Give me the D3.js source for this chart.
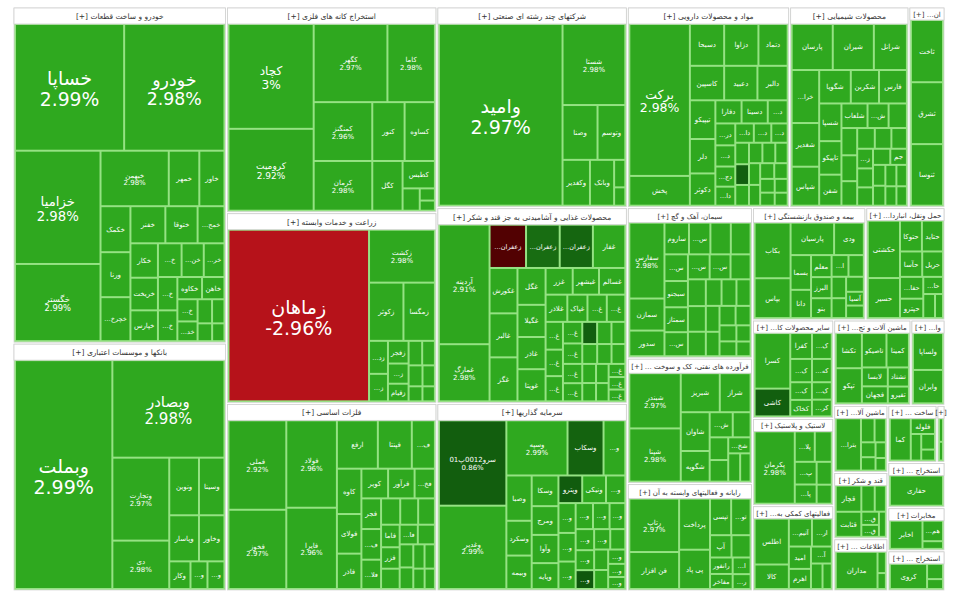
<!DOCTYPE html>
<html>
<head>
<meta charset="utf-8">
<script src="https://cdn.jsdelivr.net/npm/d3@7"></script>
<style>
body { margin: 0; background: #fff; }
text { font-family: "DejaVu Sans", sans-serif; }
</style>
</head>
<body>
<div id="chart"></div>
<script>
// stock lists: [symbol, size, % change]
var khodro = [["خساپا",13875,2.99],["خودرو",12750,2.98],["خزامیا",9718,2.98],["خگستر",6622,2.99],
  ["خبهمن",3800,2.98],["خمهر",1700,2.97],["خاور",1400,2.99],["خکمک",1380,2.98],["ورنا",1350,2.99],
  ["خچرخش",1320,2.97],["خفنر",1300,2.98],["ختوقا",1200,2.96],["خمحرکه",1000,2.98],["خکار",950,2.99],
  ["خریخت",900,2.97],["خپارس",850,2.98],["خشرق",800,2.99],["خنصیر",750,2.97],["خرینگ",700,2.98],
  ["ختراک",650,2.99],["خلنت",600,2.96],["خکاوه",550,2.98],["خاهن",500,2.97],["خمحور",450,2.99],
  ["خدیزل",400,2.98],["خصدرا",350,2.97],["خعمرا",300,2.99],["خفولا",260,2.98],["خوساز",220,2.98]];
var bank = [["وبملت",22770,2.99],["وبصادر",11172,2.98],["وتجارت",4824,2.97],["دی",2814,2.98],
  ["ونوین",1750,2.99],["وسینا",1500,2.98],["وپاسار",1400,2.97],["وخاور",1200,2.99],["وکار",600,2.98],
  ["وپست",480,2.96],["وسرمد",480,2.98]];
var madan = [["کچاد",8715,3.00],["کرومیت",6806,2.92],["کگهر",5621,2.97],["کاما",3619,2.98],
  ["کمنگنز",3364,2.96],["کرمان",2842,2.98],["کنور",1856,2.99],["کساوه",1740,2.97],["کگل",1470,2.98],
  ["کطبس",864,2.99],["کبافق",374,2.98],["کپرور",180,2.97],["کدما",150,2.98]];
var zeraat = [["زماهان",23184,-2.96],["زکشت",3350,2.98],["زکوثر",1925,2.97],["زمگسا",1760,2.99],
  ["زدشت",600,2.98],["زپارس",500,2.97],["زفجر",450,2.98],["زشریف",400,2.99],["زقیام",350,2.96],
  ["زبینا",320,2.98],["زگلدشت",300,2.97],["زفکا",280,2.99],["زنگان",250,2.98],["زشگزا",200,2.97],
  ["زملارد",180,2.98]];
var felezat = [["فملی",4928,2.92],["فخوز",4368,2.97],["فولاد",4214,2.96],["فایرا",3920,2.96],
  ["ارفع",1886,2.98],["فپنتا",1564,2.97],["فسبزوار",1064,2.99],["کاوه",1058,2.98],["فولای",924,2.97],
  ["فاذر",825,2.98],["کویر",756,2.99],["فرآور",750,2.98],["فخاس",575,2.97],["فجر",575,2.99],
  ["فمراد",575,2.98],["فلامی",550,2.97],["فگستر",480,2.98],["فسرب",450,2.99],["فنورد",420,2.98],
  ["فاما",400,2.97],["فزر",380,2.98],["فروی",360,2.99],["فالوم",340,2.98],["فسازان",320,2.97],
  ["فنوال",300,2.98],["فباهنر",280,2.99],["فجوش",260,2.98],["فتوسا",240,2.97],["فافزا",220,2.98],
  ["فکمند",200,2.98]];
var chand = [["وامید",21894,2.97],["شستا",4960,2.98],["وصنا",1870,2.97],["وتوسم",1485,2.98],
  ["وکغدیر",1225,2.99],["وبانک",1080,2.98],["وصنعت",300,2.97],["ومعادن",200,2.98]];
var ghaza = [["آردینه",5520,2.91],["غمارگ",2640,2.98],["زعفران0011",1440,-0.5],["زعفران0012",1330,1.3],
  ["زعفران0010",1310,1.1],["غفار",1280,2.97],["غکورش",1155,2.98],["غالبر",1120,2.97],["غگز",1120,2.99],
  ["غگل",945,2.98],["غگیلا",825,2.98],["غاذر",825,2.97],["غویتا",825,2.99],["غزر",660,2.98],
  ["غبشهر",640,2.97],["غسالم",640,2.98],["غلاذر",540,2.99],["غپاک",500,2.98],["غشهد",480,2.97],
  ["غدیس",460,2.98],["غنوش",440,2.99],["غپینو",420,2.98],["غشاذر",400,2.97],["غمینو",380,2.98],
  ["غبهنوش",360,2.99],["غشصفا",340,2.98],["غنیلی",320,2.97],["غدشت",300,0.9],["غمهرا",290,2.98],
  ["غکامل",280,2.99],["غشان",270,2.98],["غچین",260,2.97],["غپونه",250,2.98],["غتوس",240,2.99],
  ["غصینو",230,2.98],["غزاگرس",220,2.97],["غیوان",210,2.98],["غمشهد",200,2.98],["غگلپا",190,2.99],
  ["غرب",180,2.98]];
var sarmaye = [["سرو0012پ01",5610,0.86],["وغدیر",5478,2.99],["وسپه",3285,2.99],["وسکاب",1935,1.0],
  ["وسبحان",1170,2.98],["وصبا",1118,2.97],["وسکرد",858,2.98],["وبیمه",825,2.99],["وسکا",800,2.98],
  ["ومرج",750,2.97],["وآوا",736,2.98],["وپایه",675,2.99],["وپترو",640,0.8],["ونیکی",640,2.98],
  ["وساپا",520,2.97],["وبوعلی",500,2.98],["ولغدر",480,2.99],["وتوکا",460,2.98],["وسمنان",440,2.97],
  ["وسخراج",420,2.98],["وملل",400,2.99],["وکبهمن",380,2.98],["وسیزد",360,2.97],["وکادو",340,0.7],
  ["وآتوس",320,2.98],["وهامون",300,2.99],["وسقم",280,2.98],["وتوصا",260,2.97],["وسفارس",240,2.98],
  ["والبر",220,2.99],["وسنوین",200,2.98]];
var darou = [["برکت",8732,2.98],["پخش",1711,2.97],["دسبحا",1360,2.98],["دزاوا",1360,2.99],
  ["دتماد",1160,2.97],["کاسپین",1122,2.98],["دعبید",1089,2.99],["دالبر",990,2.98],["تیپیکو",936,2.97],
  ["دلر",832,2.98],["دکوثر",780,2.99],["دفارا",575,2.98],["دسینا",575,2.97],["دشیمی",437,2.98],
  ["درازک",414,2.99],["دلقما",400,2.98],["دجابر",380,2.97],["داسوه",360,2.98],["دابور",340,2.99],
  ["دتولید",320,2.98],["دپارس",300,2.97],["دامین",280,2.98],["دیران",270,0.9],["دشیری",270,2.99],
  ["دکیمی",260,2.98],["دفرا",250,2.97],["دزهراوی",240,2.98],["داوه",230,2.99],["دتوزیع",220,2.98],
  ["درازی",210,2.97],["دسانکو",200,2.98],["دکپسول",190,2.99],["دبالک",180,2.98],["درهآور",170,2.97],
  ["دحاوی",160,2.98]];
var shimi = [["پارسان",1763,2.98],["شیران",1763,2.97],["شرانل",1419,2.99],["خراسان",1360,2.98],
  ["شغدیر",1120,2.97],["شپاس",1000,2.98],["شگویا",986,2.99],["شکربن",880,2.98],["فارس",870,2.97],
  ["شسپا",782,2.98],["تاپیکو",696,2.99],["شفن",644,2.98],["شلعاب",598,2.97],["شپاکسا",483,2.98],
  ["شاراک",420,2.99],["شصدف",400,2.98],["شبهرن",380,2.97],["شفا",360,2.98],["شخارک",340,2.99],
  ["شیراز",320,2.98],["شپدیس",300,2.97],["زاگرس",290,2.98],["شنفت",280,2.99],["شکلر",270,2.98],
  ["شدوص",260,2.97],["جم",250,2.98],["نوری",240,2.99],["شتوکا",230,2.98],["شجم",220,2.97],
  ["شسم",210,2.98],["شمواد",200,2.99],["شصفها",190,2.98]];
var mostaghelat = [["ثاخت",1950,2.99],["ثشرق",1940,2.98],["ثنوسا",1930,2.97]];
var siman = [["سفارس",2556,2.98],["سمازن",1080,2.97],["سدور",864,2.98],["ساروم",744,2.99],
  ["سخزر",650,2.98],["سپرود",620,2.97],["سهرمز",600,2.98],["سشمال",600,2.99],["سبجنو",590,2.98],
  ["سمتاز",560,2.97],["سکرما",540,2.98],["ستران",520,2.99],["سشرق",500,2.98],["سصوفی",480,2.97],
  ["سفانو",460,2.98],["سکارون",440,2.99],["سارس",420,2.98],["سبهان",400,2.97],["سغرب",380,2.98],
  ["سیلام",360,2.99],["سقاین",340,2.98],["سنیر",320,2.97],["سخوز",300,2.98],["سدشت",280,2.99],
  ["سیتا",260,2.98],["سبزوا",240,2.97],["سفار",220,2.98],["سکرد",200,2.98]];
var farvarde = [["شبندر",2695,2.97],["شپنا",2597,2.98],["شبریز",1444,2.98],["شراز",1140,2.99],
  ["شاوان",1064,2.97],["شگویه",840,2.98],["شتران",550,2.99],["شرانگ",425,2.98],["شاملا",400,2.97],
  ["شپترو",380,2.98],["شخلیج",340,2.99],["شلیا",320,2.98],["شیمی",280,2.97]];
var rayane = [["رتاپ",2496,2.97],["فن افزار",1728,2.98],["پرداخت",1482,2.99],["پی پاد",1140,2.98],
  ["تپسی",725,2.97],["توسن",667,2.98],["آپ",450,2.99],["سیستم",400,2.98],["رانفور",350,2.97],
  ["مفاخر",320,2.98],["اتکای",280,2.99],["رکیش",250,2.98]];
var bime = [["بکاب",1802,2.98],["بپاس",1292,2.97],["پارسیان",1271,2.99],["ودی",868,2.98],
  ["بسما",640,2.97],["دانا",520,2.98],["معلم",408,2.99],["البرز",391,2.98],["بنو",368,2.97],
  ["اتکام",330,2.98],["بمیلا",300,2.99],["بتهران",280,2.98],["وحافظ",260,2.97],["کوثر",240,2.98],
  ["آسیا",220,2.99],["بساما",200,2.98]];
var haml = [["حکشتی",1634,2.98],["حسیر",1140,2.97],["حتوکا",598,2.99],["حتاید",575,2.98],
  ["حآسا",500,2.97],["حریل",468,2.97],["حفارس",450,2.98],["حپترو",400,2.99],["حاریان",300,2.98],
  ["حسینا",250,2.97],["حگهر",170,2.98]];
var sayerKani = [["کسرا",1550,2.98],["کاشی",775,0.9],["کفرا",440,2.97],["کلوند",400,2.98],
  ["کسرام",396,2.99],["کهمدا",360,2.98],["کپشیر",300,2.97],["کخاک",280,2.98],["کمرجان",270,2.99],
  ["کرازی",260,2.98]];
var lastik = [["پکرمان",2520,2.98],["پلاسک",528,2.97],["پدرخش",448,2.98],["پسهند",430,2.99],
  ["پاکشو",364,2.98],["پیزد",300,2.97],["پتایر",250,2.98]];
var komaki = [["اطلس",1333,2.98],["کالا",713,2.97],["آتیمس",546,2.98],["ارزش",468,2.99],
  ["امید",420,2.98],["اهرم",378,2.97],["آساس",300,2.98],["افران",250,2.99],["اعتماد",200,2.98]];
var mashin = [["تکشا",750,2.98],["تپکو",750,2.97],["تاصیکو",690,2.98],["کمینا",630,2.99],
  ["لابسا",400,2.98],["فجهان",360,2.97],["تشتاد",330,2.98],["تفیرو",290,2.99]];
var vaseteh = [["ولساپا",960,2.98],["وایران",870,2.97]];
var barghi = [["بترانس",1215,2.98],["بموتو",300,2.97],["بنیرو",250,2.98],["بشهاب",200,2.99],
  ["بکام",180,2.98],["بایکا",150,2.97],["برکیش",120,2.98]];
var ghand = [["قچار",575,2.98],["قثابت",550,2.97],["قشکر",300,2.98],["قلرست",250,2.99],
  ["قمرو",200,2.98],["قهکمت",180,2.97],["قنیشا",150,2.98]];
var etelaat = [["مداران",1400,2.98],["اسیاتک",160,2.97],["افق",120,2.98]];
var sakht = [["کما",700,2.98],["فلوله",300,2.97],["فاسمین",220,2.98],["فجام",170,2.99],["فنفت",120,2.98]];
var nasaji = [["نبروج",250,2.98],["نطرین",200,2.97]];
var naft = [["حفاری",1300,2.97]];
var mokhaberat = [["اخابر",875,2.98],["همراه",400,2.97],["اعتلا",150,2.98]];
var sayerMaaden = [["کروی",770,2.98],["کزغال",200,2.97],["کباما",130,2.98]];

var sectorNames = ["خودرو و ساخت قطعات", "بانکها و موسسات اعتباری", "استخراج کانه های فلزی",
  "زراعت و خدمات وابسته", "فلزات اساسی", "شرکتهای چند رشته ای صنعتی",
  "محصولات غذایی و آشامیدنی به جز قند و شکر", "سرمایه گذاریها", "مواد و محصولات دارویی",
  "محصولات شیمیایی", "انبوه سازی، املاک و مستغلات", "سیمان، آهک و گچ",
  "فرآورده های نفتی، کک و سوخت هسته ای", "رایانه و فعالیتهای وابسته به آن",
  "بیمه و صندوق بازنشستگی", "حمل ونقل، انبارداری", "سایر محصولات کانی غیرفلزی",
  "لاستیک و پلاستیک", "فعالیتهای کمکی به نهادهای مالی", "ماشین آلات و تجهیزات", "واسطه گری مالی",
  "ماشین آلات و دستگاههای برقی", "قند و شکر", "اطلاعات و ارتباطات", "ساخت محصولات فلزی",
  "منسوجات", "استخراج نفت گاز", "مخابرات", "استخراج سایر معادن"];
var sectorValues = [71355, 52611, 43050, 39900, 39270, 38000, 37050, 35530, 32400, 23800, 7200,
  18750, 15625, 13375, 12656, 8848, 7938, 7047, 6885, 6545, 2890, 3618, 3564, 2808, 2793, 456,
  2565, 2451, 2280];
var sectorStocks = [khodro, bank, madan, zeraat, felezat, chand, ghaza, sarmaye, darou, shimi,
  mostaghelat, siman, farvarde, rayane, bime, haml, sayerKani, lastik, komaki, mashin, vaseteh,
  barghi, ghand, etelaat, sakht, nasaji, naft, mokhaberat, sayerMaaden];

// how sectors are grouped: "h" = side by side, "v" = stacked, numbers = sector index
var layout = ["h",
  ["v", 0, 1],
  ["v", 2, 3, 4],
  ["v", 5, 6, 7],
  ["v",
    ["h", 8, 9, 10],
    ["h",
      ["v", 11, 12, 13],
      ["v",
        ["h", 14, 15],
        ["h",
          ["v", 16, 17, 18],
          ["v",
            ["h", 19, 20],
            ["h",
              ["v", 21, 22, 23],
              ["v", ["h", 24, 25], 26, 27, 28]]]]]]]];

var width = 960, height = 600;
var mapW = 930, mapH = 582;

function build(node) {
  if (typeof node === "number") {
    var stocks = sectorStocks[node];
    var total = d3.sum(stocks, function(s) { return s[1]; });
    return {
      kind: "sector",
      name: sectorNames[node],
      size: sectorValues[node],
      children: stocks.slice().sort(function(a, b) { return b[1] - a[1]; }).map(function(s) {
        return {kind: "stock", name: s[0], value: sectorValues[node] * s[1] / total, pct: s[2]};
      })
    };
  }
  return {kind: node[0], children: node.slice(1).map(build)};
}

function headerH(d) {
  return d.data.size > 20000 ? 17 : (d.data.size > 10000 ? 15 : 13);
}

// squarify inside sectors, a bit wider than tall like the source map
var stretch = 1.3;
var squarify = d3.treemapSquarify.ratio(1);
function tile(node, x0, y0, x1, y1) {
  var k = node.data.kind;
  if (k === "h") d3.treemapDice(node, x0, y0, x1, y1);
  else if (k === "v") d3.treemapSlice(node, x0, y0, x1, y1);
  else {
    squarify(node, x0 * stretch, y0, x1 * stretch, y1);
    node.children.forEach(function(c) { c.x0 /= stretch; c.x1 /= stretch; });
  }
}

var root = d3.hierarchy(build(layout))
  .sum(function(d) { return d.kind === "stock" ? d.value : 0; });

d3.treemap()
  .size([mapW, mapH])
  .tile(tile)
  .paddingInner(2)
  .paddingTop(function(d) { return d.data.kind === "sector" ? headerH(d) : 0; })
  .paddingLeft(function(d) { return d.data.kind === "sector" ? 2 : 0; })
  .paddingRight(function(d) { return d.data.kind === "sector" ? 2 : 0; })
  .paddingBottom(function(d) { return d.data.kind === "sector" ? 2 : 0; })
  (root);

var color = d3.scaleLinear()
  .domain([-3, -0.3, 0.3, 3])
  .range(["#b8121a", "#4a0000", "#0a4a0a", "#2fa91f"])
  .clamp(true);

function fmt(p) { return (+p.toFixed(2)) + "%"; }

var svg = d3.select("#chart").append("svg")
  .attr("width", width)
  .attr("height", height);

svg.append("rect").attr("width", width).attr("height", height).attr("fill", "#fff");

var chartGroup = svg.append("g").attr("transform", "translate(14, 8)");

var sectors = root.descendants().filter(function(d) { return d.data.kind === "sector"; });

// sector body (light green shows through as the cell borders)
chartGroup.selectAll("rect.sector")
  .data(sectors)
  .enter()
  .append("rect")
  .attr("class", "sector")
  .attr("x", function(d) { return d.x0; })
  .attr("y", function(d) { return d.y0; })
  .attr("width", function(d) { return d.x1 - d.x0; })
  .attr("height", function(d) { return d.y1 - d.y0; })
  .attr("fill", "#95e283")
  .attr("stroke", "#d6d6d6")
  .attr("stroke-width", 0.8);

chartGroup.selectAll("rect.header")
  .data(sectors)
  .enter()
  .append("rect")
  .attr("class", "header")
  .attr("x", function(d) { return d.x0; })
  .attr("y", function(d) { return d.y0; })
  .attr("width", function(d) { return d.x1 - d.x0; })
  .attr("height", function(d) { return headerH(d) - 1; })
  .attr("fill", "#fff")
  .attr("stroke", "#d0d0d0")
  .attr("stroke-width", 0.8);

// header labels, shortened with … when the box is narrow
sectors.forEach(function(d) {
  var w = d.x1 - d.x0 - 4;
  var fs = headerH(d) > 15 ? 7.5 : 7;
  var t = chartGroup.append("text")
    .attr("x", (d.x0 + d.x1) / 2)
    .attr("y", d.y0 + headerH(d) / 2 + fs * 0.35)
    .attr("text-anchor", "middle")
    .attr("direction", "rtl")
    .attr("font-size", fs)
    .attr("fill", "#333")
    .text(d.data.name + " [+]");
  var name = d.data.name;
  var k = name.length;
  while (t.node().getComputedTextLength() > w && k > 0) {
    k--;
    t.text(k > 0 ? name.slice(0, k) + "… [+]" : "[+]");
  }
});

var leaves = root.leaves();

chartGroup.selectAll("rect.cell")
  .data(leaves)
  .enter()
  .append("rect")
  .attr("class", "cell")
  .attr("x", function(d) { return d.x0; })
  .attr("y", function(d) { return d.y0; })
  .attr("width", function(d) { return Math.max(0, d.x1 - d.x0); })
  .attr("height", function(d) { return Math.max(0, d.y1 - d.y0); })
  .attr("fill", function(d) { return color(d.data.pct); });

function fitText(t, str, maxW, fs, cut) {
  t.attr("font-size", fs).text(str);
  var len = t.node().getComputedTextLength();
  if (len <= maxW) return fs;
  var f2 = fs * maxW / len;
  if (f2 >= 6.5) { t.attr("font-size", f2); return f2; }
  if (!cut) { t.remove(); return 0; }
  t.attr("font-size", 6.5);
  for (var k = str.length - 1; k >= 1; k--) {
    t.text(str.slice(0, k) + "…");
    if (t.node().getComputedTextLength() <= maxW) return 6.5;
  }
  t.remove();
  return 0;
}

leaves.forEach(function(d) {
  var w = d.x1 - d.x0, h = d.y1 - d.y0;
  if (w < 9 || h < 9) return;
  var fs = Math.max(7, Math.min(19, (Math.sqrt(w * h) - 50) / 3.5));
  if (fs > h - 3) fs = Math.max(6.5, h - 3);
  var cx = (d.x0 + d.x1) / 2, cy = (d.y0 + d.y1) / 2;
  var showPct = w * h > 2200 && h > fs * 2.4;

  var nameText = chartGroup.append("text")
    .attr("x", cx)
    .attr("text-anchor", "middle")
    .attr("direction", "rtl")
    .attr("fill", "#fff");
  var nfs = fitText(nameText, d.data.name, w - 4, fs, true);
  if (!nfs) return;

  if (showPct) {
    var pctText = chartGroup.append("text")
      .attr("x", cx)
      .attr("text-anchor", "middle")
      .attr("fill", "#fff");
    var pfs = fitText(pctText, fmt(d.data.pct), w - 4, nfs, false);
    if (pfs) {
      nameText.attr("y", cy - 0.1 * nfs);
      pctText.attr("y", cy + 0.1 * nfs + pfs * 0.9);
      return;
    }
  }
  nameText.attr("y", cy + nfs * 0.35);
});
</script>
</body>
</html>
